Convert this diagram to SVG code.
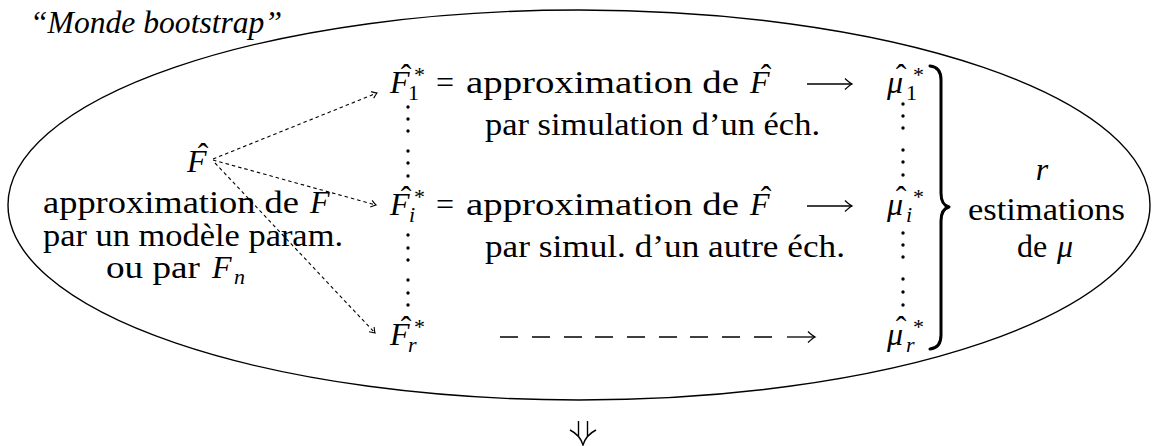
<svg xmlns="http://www.w3.org/2000/svg" width="1155" height="446" viewBox="0 0 1155 446">
<defs>
<style>
text{font-family:"Liberation Serif","Times New Roman",serif;font-size:32px;fill:#000}
.it{font-style:italic}
.sm{font-size:22px}
.dot{fill:#000}
.conn{fill:none;stroke:#000;stroke-width:1.1;stroke-dasharray:3.5 3}
.arr{fill:none;stroke:#000;stroke-width:1.3}
</style>
<marker id="tip" viewBox="-7 -5 9 10" markerWidth="9" markerHeight="10" refX="0" refY="0" orient="auto" markerUnits="userSpaceOnUse">
<path d="M-5,-3.5 Q-1.5,-0.8 0,0 Q-1.5,0.8 -5,3.5" fill="none" stroke="#000" stroke-width="1.1"/>
</marker>
<marker id="big" viewBox="-10 -7 12 14" markerWidth="12" markerHeight="14" refX="0" refY="0" orient="auto" markerUnits="userSpaceOnUse">
<path d="M-7,-5.5 Q-2.5,-1.2 0,0 Q-2.5,1.2 -7,5.5" fill="none" stroke="#000" stroke-width="1.3"/>
</marker>
</defs>

<ellipse id="monde" cx="579" cy="205" rx="571" ry="195" fill="none" stroke="#000" stroke-width="1.4"/>
<text id="title" class="it" x="30" y="33" font-size="30" textLength="252" lengthAdjust="spacingAndGlyphs">“Monde bootstrap”</text>

<g id="connectors">
<line class="conn" x1="213" y1="159" x2="377" y2="93" marker-end="url(#tip)"/>
<line class="conn" x1="213" y1="160" x2="376" y2="205" marker-end="url(#tip)"/>
<line class="conn" x1="215" y1="163" x2="375" y2="333" marker-end="url(#tip)"/>
<line class="arr" x1="807" y1="84" x2="852" y2="84" marker-end="url(#big)"/>
<line class="arr" x1="807" y1="206" x2="852" y2="206" marker-end="url(#big)"/>
<path class="arr" d="M500,337 h18 M532,337 h18 M564,337 h18 M595,337 h18 M627,337 h18 M659,337 h18 M690,337 h18 M722,337 h18 M754,337 h18"/>
<line class="arr" x1="787" y1="337" x2="815" y2="337" marker-end="url(#big)"/>
<path id="implies" d="M578.5,421 V436 M587.5,421 V436 M570,430 Q580,435 583,445 Q586,435 596,430" fill="none" stroke="#000" stroke-width="1.4"/>
</g>

<g id="node-Fhat">
<text class="it" x="187" y="172">F</text>
<text x="203" y="165" text-anchor="middle">ˆ</text>
<text x="43" y="213" textLength="256" lengthAdjust="spacingAndGlyphs">approximation de</text>
<text class="it" x="310" y="213">F</text>
<text x="43" y="246" textLength="300" lengthAdjust="spacingAndGlyphs">par un modèle param.</text>
<text x="106" y="278" textLength="94" lengthAdjust="spacingAndGlyphs">ou par</text>
<text class="it" x="212" y="278">F</text>
<text class="it sm" x="234" y="284">n</text>
</g>

<g id="node-F1">
<text class="it" x="390" y="93">F</text>
<text x="406" y="86" text-anchor="middle">ˆ</text>
<text class="sm" x="414" y="82">*</text>
<text class="sm" x="408" y="100">1</text>
<text x="436" y="93">=</text>
<text x="466" y="93" textLength="273" lengthAdjust="spacingAndGlyphs">approximation de</text>
<text class="it" x="750" y="93">F</text>
<text x="766" y="86" text-anchor="middle">ˆ</text>
<text x="485" y="135" textLength="335" lengthAdjust="spacingAndGlyphs">par simulation d’un éch.</text>
</g>

<g id="node-Fi">
<text class="it" x="390" y="215">F</text>
<text x="406" y="208" text-anchor="middle">ˆ</text>
<text class="sm" x="414" y="204">*</text>
<text class="it sm" x="409" y="222">i</text>
<text x="436" y="215">=</text>
<text x="466" y="215" textLength="273" lengthAdjust="spacingAndGlyphs">approximation de</text>
<text class="it" x="750" y="215">F</text>
<text x="766" y="208" text-anchor="middle">ˆ</text>
<text x="485" y="257" textLength="360" lengthAdjust="spacingAndGlyphs">par simul. d’un autre éch.</text>
</g>

<g id="node-Fr">
<text class="it" x="390" y="345">F</text>
<text x="406" y="338" text-anchor="middle">ˆ</text>
<text class="sm" x="414" y="334">*</text>
<text class="it sm" x="408" y="352">r</text>
</g>

<g id="dotsF" class="dot">
<circle cx="408" cy="107" r="1.7"/><circle cx="408" cy="119" r="1.7"/><circle cx="408" cy="131" r="1.7"/>
<circle cx="408" cy="151" r="1.7"/><circle cx="408" cy="163" r="1.7"/><circle cx="408" cy="176" r="1.7"/>
<circle cx="408" cy="235" r="1.7"/><circle cx="408" cy="248" r="1.7"/><circle cx="408" cy="260" r="1.7"/>
<circle cx="408" cy="280" r="1.7"/><circle cx="408" cy="293" r="1.7"/><circle cx="408" cy="305" r="1.7"/>
</g>

<g id="node-mu1">
<text class="it" x="887" y="93">μ</text>
<text x="901" y="86" text-anchor="middle">ˆ</text>
<text class="sm" x="913" y="82">*</text>
<text class="sm" x="906" y="100">1</text>
</g>
<g id="node-mui">
<text class="it" x="887" y="215">μ</text>
<text x="901" y="208" text-anchor="middle">ˆ</text>
<text class="sm" x="913" y="204">*</text>
<text class="it sm" x="906" y="222">i</text>
</g>
<g id="node-mur">
<text class="it" x="887" y="345">μ</text>
<text x="901" y="338" text-anchor="middle">ˆ</text>
<text class="sm" x="913" y="334">*</text>
<text class="it sm" x="906" y="352">r</text>
</g>

<g id="dotsMu" class="dot">
<circle cx="903" cy="104" r="1.7"/><circle cx="903" cy="116" r="1.7"/><circle cx="903" cy="128" r="1.7"/>
<circle cx="903" cy="150" r="1.7"/><circle cx="903" cy="162" r="1.7"/><circle cx="903" cy="175" r="1.7"/>
<circle cx="903" cy="233" r="1.7"/><circle cx="903" cy="245" r="1.7"/><circle cx="903" cy="257" r="1.7"/>
<circle cx="903" cy="279" r="1.7"/><circle cx="903" cy="292" r="1.7"/><circle cx="903" cy="305" r="1.7"/>
</g>

<path id="brace" d="M930,66 Q941,67 941,80 L941,193 Q941,205 949,207 Q941,209 941,221 L941,335 Q941,348 930,349" fill="none" stroke="#000" stroke-width="3" stroke-linecap="round" stroke-linejoin="round"/>

<g id="node-estim">
<text class="it" x="1042" y="180" text-anchor="middle">r</text>
<text x="968" y="220" textLength="157" lengthAdjust="spacingAndGlyphs">estimations</text>
<text x="1017" y="257">de</text>
<text class="it" x="1057" y="257">μ</text>
</g>
</svg>
